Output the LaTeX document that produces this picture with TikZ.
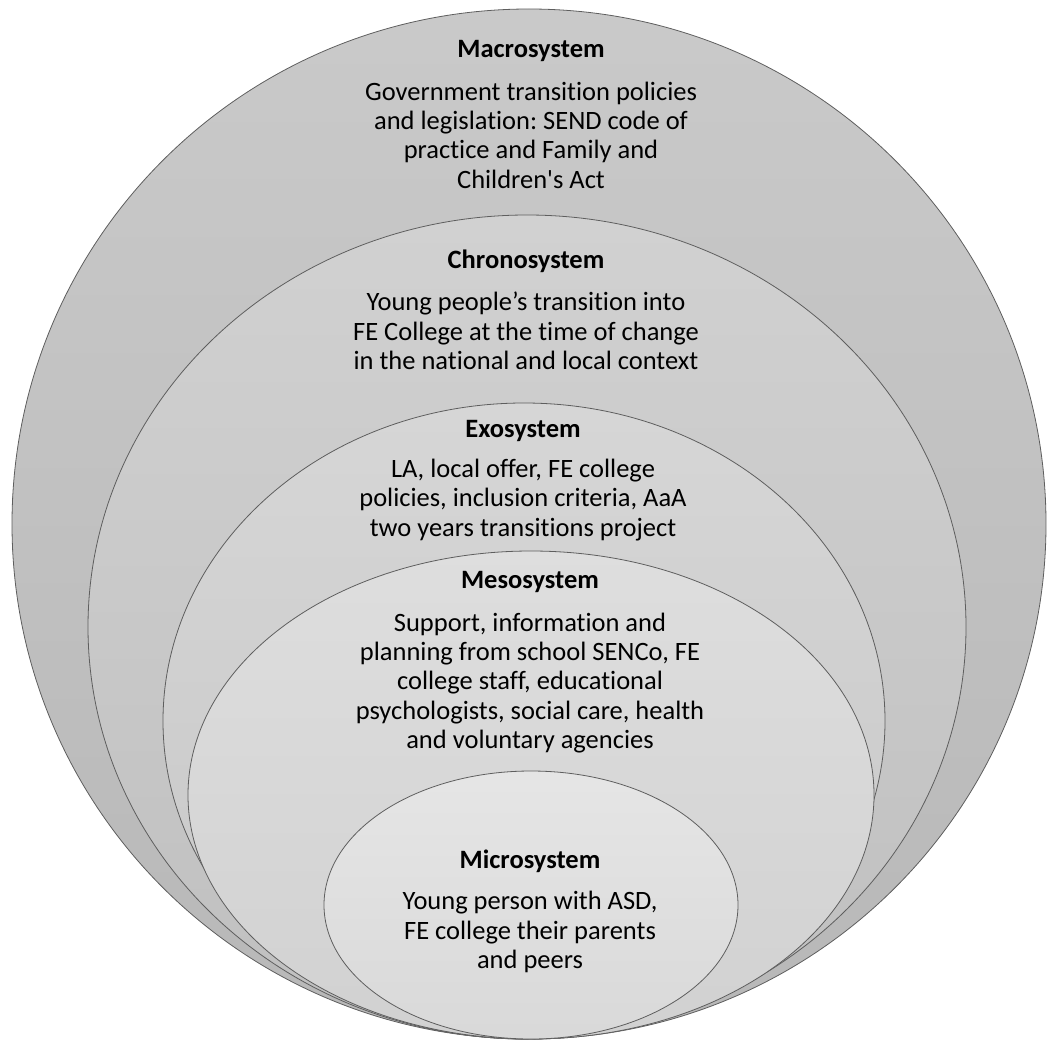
\documentclass[tikz,border=0pt]{standalone}
\usepackage{fontspec}
\setmainfont[Ligatures={TeX,NoCommon}]{Carlito}
\usepackage{xcolor}
\usepackage{tikz}
\frenchspacing

\definecolor{edgegray}{HTML}{5E5E5E}
\tikzset{
  ring/.style = {draw=edgegray, line width=0.8pt},
  sysname/.style = {font=\fontsize{26.5}{29.4}\selectfont\bfseries, inner sep=0pt},
  systext/.style = {font=\fontsize{26.5}{29.4}\selectfont, align=center, inner sep=0pt},
}

\begin{document}
\begin{tikzpicture}[x=1pt, y=-1pt]
    \useasboundingbox (0,0) rectangle (1049,1041);

    % nested systems, all touching at the bottom
    \draw[ring, top color=black!21, bottom color=black!28] (529,524) ellipse (517 and 515);
    \draw[ring, top color=black!18, bottom color=black!25] (527,627) ellipse (439 and 412);
    \draw[ring, top color=black!16, bottom color=black!22] (524,721) ellipse (361 and 318);
    \draw[ring, top color=black!13, bottom color=black!18] (531,795) ellipse (343 and 244);
    \draw[ring, top color=black!10, bottom color=black!15] (531,905) ellipse (207 and 134);

    % labels
    \node[sysname] (macroName) at (531,51) {Macrosystem};
    \node[systext] (macroText) at (531,135) {Government transition policies\\and legislation: SEND code of\\practice and Family and\\Children\textquotesingle s Act};

    \node[sysname] (chronoName) at (526,261) {Chronosystem};
    \node[systext] (chronoText) at (526,331) {Young people’s transition into\\FE College at the time of change\\in the national and local context};

    \node[sysname] (exoName) at (523,431) {Exosystem};
    \node[systext] (exoText) at (523,500) {LA, local offer, FE college\\policies, inclusion criteria, AaA\\two years transitions project};

    \node[sysname] (mesoName) at (530,582) {Mesosystem};
    \node[systext] (mesoText) at (530,683) {Support, information and\\planning from school SENCo, FE\\college staff, educational\\psychologists, social care, health\\and voluntary agencies};

    \node[sysname] (microName) at (530,861) {Microsystem};
    \node[systext] (microText) at (530,932) {Young person with ASD,\\FE college their parents\\and peers};
\end{tikzpicture}
\end{document}
